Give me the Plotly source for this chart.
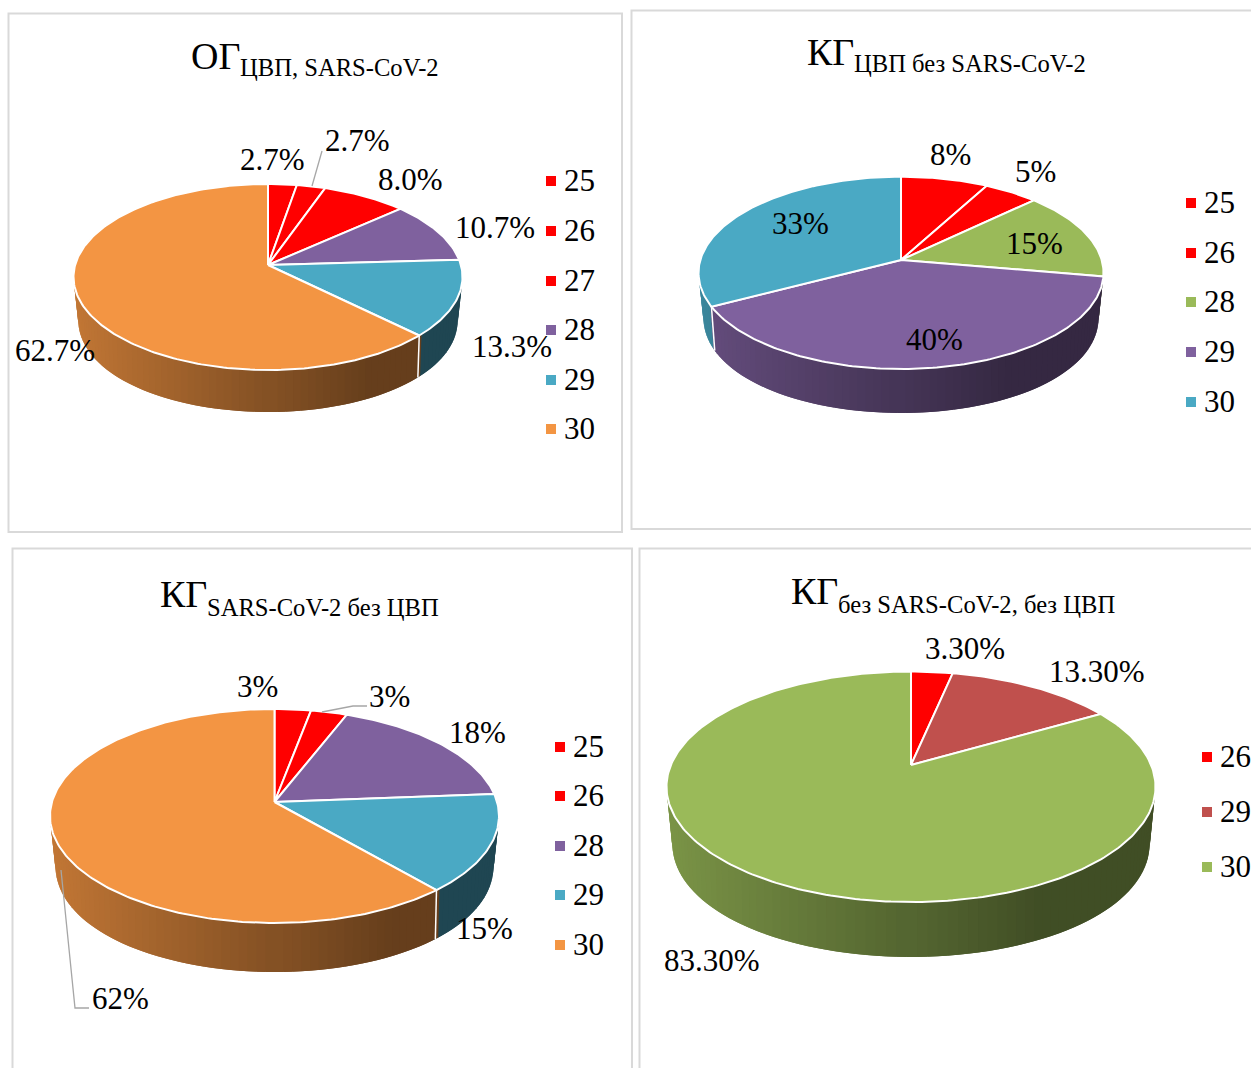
import math
import plotly.graph_objects as go

RED = "#FF0000"
PURPLE = "#7F619E"
TEAL = "#4AA9C4"
ORANGE = "#F39543"
GREEN = "#9ABA59"
BRICK = "#C0504D"

# Shares of each group, listed clockwise from twelve o'clock
og_categories = ["25", "26", "27", "28", "29", "30"]
og_values = [2.7, 2.7, 8.0, 10.7, 13.3, 62.7]
og_labels = ["2.7%", "2.7%", "8.0%", "10.7%", "13.3%", "62.7%"]
og_colors = [RED, RED, RED, PURPLE, TEAL, ORANGE]

kg1_categories = ["25", "26", "28", "29", "30"]
kg1_values = [8, 5, 15, 40, 33]
kg1_labels = ["8%", "5%", "15%", "40%", "33%"]
kg1_colors = [RED, RED, GREEN, PURPLE, TEAL]

kg2_categories = ["25", "26", "28", "29", "30"]
kg2_values = [3, 3, 18, 15, 62]
kg2_labels = ["3%", "3%", "18%", "15%", "62%"]
kg2_colors = [RED, RED, PURPLE, TEAL, ORANGE]

kg3_categories = ["26", "29", "30"]
kg3_values = [3.3, 13.3, 83.3]
kg3_labels = ["3.30%", "13.30%", "83.30%"]
kg3_colors = [RED, BRICK, GREEN]

FONT = "Liberation Serif"
LABEL_SIZE = 31
MAIN_SIZE = 38
SUB_SIZE = 24.6

panels = [
    dict(main="ОГ", sub="ЦВП, SARS-CoV-2", main_xy=(191, 56), sub_xy=(240, 67),
         categories=og_categories, values=og_values, labels=og_labels, colors=og_colors,
         cx=268, cy=265, halfw=194.5, up=81, down=105, depth=42,
         label_xy=[(272, 159), (357, 140), (410, 179), (495, 227), (512, 346), (55, 350)],
         legend_x=551, legend_y=[181, 231, 281, 330, 380, 429],
         leaders=[[(312, 186), (322, 151)]],
         frame=(8.5, 13.5, 622, 532)),
    dict(main="КГ", sub="ЦВП без SARS-CoV-2", main_xy=(807, 52), sub_xy=(854, 63),
         categories=kg1_categories, values=kg1_values, labels=kg1_labels, colors=kg1_colors,
         cx=901, cy=260, halfw=202.5, up=83.3, down=109, depth=44,
         label_xy=[(950, 154), (1035, 171), (1034, 243), (934, 339), (800, 223)],
         legend_x=1191, legend_y=[203, 253, 302, 352, 402],
         leaders=[],
         frame=(631.5, 10.5, 1270, 529)),
    dict(main="КГ", sub="SARS-CoV-2 без ЦВП", main_xy=(160, 594), sub_xy=(207, 607),
         categories=kg2_categories, values=kg2_values, labels=kg2_labels, colors=kg2_colors,
         cx=274.5, cy=802, halfw=224.5, up=93, down=121, depth=49,
         label_xy=[(257, 686), (389, 696), (477, 732), (484, 928), (120, 998)],
         legend_x=560, legend_y=[747, 796, 846, 895, 945],
         leaders=[[(322, 712), (353, 706), (367, 706)], [(61, 870), (75, 1008), (89, 1008)]],
         frame=(12.5, 548.5, 632, 1090)),
    dict(main="КГ", sub="без SARS-CoV-2, без ЦВП", main_xy=(791, 591), sub_xy=(838, 604),
         categories=kg3_categories, values=kg3_values, labels=kg3_labels, colors=kg3_colors,
         cx=911, cy=765, halfw=244.5, up=93.5, down=137, depth=55,
         label_xy=[(965, 648), (1097, 671), (712, 960)],
         legend_x=1207, legend_y=[757, 812, 867],
         leaders=[],
         frame=(639.5, 548.5, 1270, 1090)),
]


def to_rgb(color):
    return tuple(int(color[i:i + 2], 16) for i in (1, 3, 5))


def shaded(color, factor):
    r, g, b = to_rgb(color)
    return f"rgb({int(r * factor)},{int(g * factor)},{int(b * factor)})"


def wall_shade(t):
    # Side of the disc: brightest on the left, dark from about three quarters across
    return 0.80 - 0.38 * min(1.0, t / 0.76)


def make_projector(p):
    # Perspective view of a flat disc: the far half looks shorter than the near half
    k = (p["down"] - p["up"]) / (p["down"] + p["up"])
    b = p["up"] * (1 + k)
    rx = p["halfw"] * math.sqrt(1 - k * k)

    def project(theta, drop=0.0, shrink=0.0):
        # shrink pulls the lower rim inward, mostly near the left and right extremes
        u, v = math.sin(theta), math.cos(theta)
        d = 1 + k * v
        narrowing = 1 - shrink * abs(u) ** 3
        return p["cx"] + rx * u / d * narrowing, p["cy"] - b * v / d + drop

    return project


fig = go.Figure()


def polygon(xs, ys, fill, line_color=None, line_width=0):
    fig.add_trace(go.Scatter(
        x=xs, y=ys, mode="lines", fill="toself", fillcolor=fill,
        line=dict(color=line_color or fill, width=line_width),
        hoverinfo="skip", showlegend=False,
    ))


RIM_SHRINK = 0.025

for p in panels:
    project = make_projector(p)
    total = sum(p["values"])
    edges = [0.0]
    for value in p["values"]:
        edges.append(edges[-1] + value / total * 2 * math.pi)
    left = p["cx"] - p["halfw"]
    width = 2 * p["halfw"]

    # Side wall, one narrow band per step painted back to front; each band
    # slightly overlaps its neighbour so no light seam shows between them
    step = math.radians(2)
    overlap = math.radians(1)
    bands = []
    for i, color in enumerate(p["colors"]):
        a = edges[i]
        while a < edges[i + 1] - 1e-9:
            e = min(a + step, edges[i + 1])
            bands.append((math.cos((a + e) / 2), a - overlap, e + overlap, color))
            a = e
    for mid_v, a, e, color in sorted(bands, key=lambda r: -r[0]):
        if mid_v > 0.35:
            continue
        arc = [a + (e - a) * j / 3 for j in range(4)]
        upper = [project(t) for t in arc]
        lower = [project(t, p["depth"], RIM_SHRINK) for t in reversed(arc)]
        ring = upper + lower + upper[:1]
        c = shaded(color, wall_shade((upper[1][0] - left) / width))
        polygon([q[0] for q in ring], [q[1] for q in ring], c)

    # White seams where two slices meet on the front of the disc
    for edge in edges[1:-1]:
        if math.cos(edge) < -0.2:
            x1, y1 = project(edge)
            x2, y2 = project(edge, p["depth"], RIM_SHRINK)
            fig.add_trace(go.Scatter(x=[x1, x2], y=[y1, y2], mode="lines",
                                     line=dict(color="white", width=1.5),
                                     hoverinfo="skip", showlegend=False))

    # Top face
    for i, color in enumerate(p["colors"]):
        n = max(2, int((edges[i + 1] - edges[i]) / math.radians(1)))
        pts = [project(edges[i] + (edges[i + 1] - edges[i]) * j / n) for j in range(n + 1)]
        xs = [p["cx"]] + [q[0] for q in pts] + [p["cx"]]
        ys = [p["cy"]] + [q[1] for q in pts] + [p["cy"]]
        polygon(xs, ys, color, "white", 2)

    # Leader lines
    for leader in p["leaders"]:
        fig.add_trace(go.Scatter(x=[q[0] for q in leader], y=[q[1] for q in leader],
                                 mode="lines", line=dict(color="#A6A6A6", width=1.3),
                                 hoverinfo="skip", showlegend=False))

    # Category key swatches
    for name, color, y in zip(p["categories"], p["colors"], p["legend_y"]):
        fig.add_trace(go.Scatter(
            x=[p["legend_x"]], y=[y], mode="markers", name=name,
            marker=dict(symbol="square", size=10, color=color),
            cliponaxis=False, hoverinfo="skip", showlegend=False,
        ))

annotations = []
shapes = []


def add_text(x, y, text, size, anchor="center"):
    annotations.append(dict(
        x=x, y=y, xref="x", yref="y", xanchor=anchor, yanchor="middle",
        showarrow=False, text=text, borderpad=0, borderwidth=0,
        font=dict(family=FONT, size=size, color="black"),
    ))


for p in panels:
    x0, y0, x1, y1 = p["frame"]
    shapes.append(dict(type="rect", xref="x", yref="y", x0=x0, y0=y0, x1=x1, y1=y1,
                       line=dict(color="#D9D9D9", width=2), fillcolor="rgba(0,0,0,0)", layer="below"))
    add_text(p["main_xy"][0], p["main_xy"][1], p["main"], MAIN_SIZE, "left")
    add_text(p["sub_xy"][0], p["sub_xy"][1], p["sub"], SUB_SIZE, "left")
    for text, (x, y) in zip(p["labels"], p["label_xy"]):
        add_text(x, y, text, LABEL_SIZE)
    for name, y in zip(p["categories"], p["legend_y"]):
        add_text(p["legend_x"] + 13, y - 0.5, name, LABEL_SIZE, "left")

fig.update_layout(
    width=1251, height=1068,
    margin=dict(l=0, r=0, t=0, b=0),
    paper_bgcolor="white", plot_bgcolor="white",
    showlegend=False,
    xaxis=dict(range=[0, 1251], visible=False, domain=[0, 1]),
    yaxis=dict(range=[1068, 0], visible=False, domain=[0, 1]),
    annotations=annotations, shapes=shapes,
)

fig.write_html("out.html", config=dict(displayModeBar=False))
